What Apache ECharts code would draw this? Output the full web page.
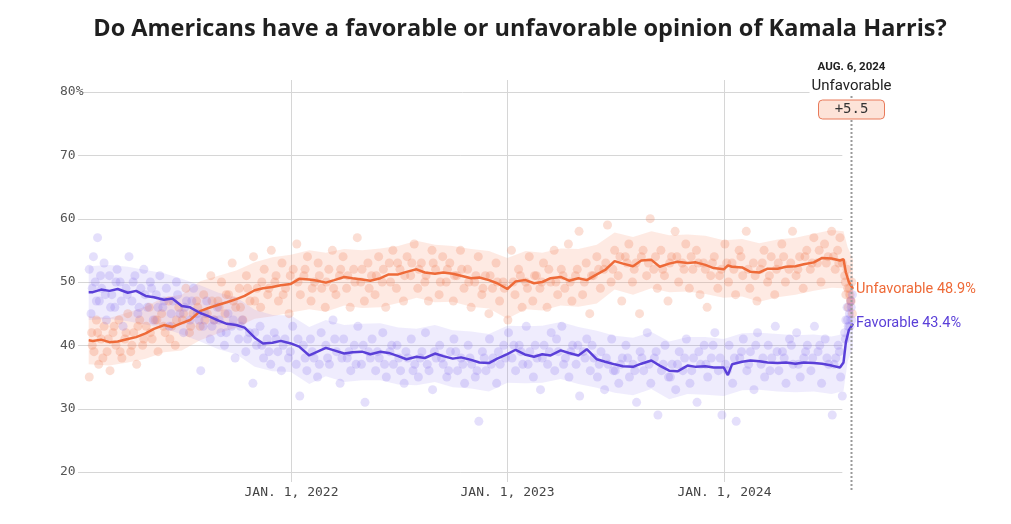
<!DOCTYPE html>
<html>
<head>
<meta charset="utf-8">
<script src="https://cdn.jsdelivr.net/npm/echarts@6/dist/echarts.min.js"></script>
<style>
html,body{margin:0;padding:0;background:#fff;}
#chart{width:1011px;height:524px;}
</style>
</head>
<body>
<div id="chart"></div>
<script>
const titleText = 'Do Americans have a favorable or unfavorable opinion of Kamala Harris?';
const yTicks = [20, 30, 40, 50, 60, 70, 80];
const xTickDates = ['2022-01-01', '2023-01-01', '2024-01-01'];
const xTickLabels = ['JAN. 1, 2022', 'JAN. 1, 2023', 'JAN. 1, 2024'];
const axisStart = '2021-01-07';
const gridEnd = '2024-07-19';
const endDate = '2024-08-06';
const endDateLabel = 'AUG. 6, 2024';
const leaderName = 'Unfavorable';
const leadMargin = '+5.5';
const favFinal = 43.4;
const unfavFinal = 48.9;

const trendDates = [
 '2021-01-25','2021-02-01','2021-02-15','2021-03-01','2021-03-15','2021-04-01','2021-04-15','2021-05-01','2021-05-15','2021-06-01','2021-06-15','2021-07-01','2021-07-15','2021-08-01','2021-08-15','2021-09-01','2021-09-15','2021-10-01','2021-10-15','2021-11-01','2021-11-15','2021-12-01','2021-12-15',
 '2022-01-01','2022-01-15','2022-02-01','2022-02-15','2022-03-01','2022-03-15','2022-04-01','2022-04-15','2022-05-01','2022-05-15','2022-06-01','2022-06-15','2022-07-01','2022-07-15','2022-08-01','2022-08-15','2022-09-01','2022-09-15','2022-10-01','2022-10-15','2022-11-01','2022-11-15','2022-12-01','2022-12-15',
 '2023-01-01','2023-01-15','2023-02-01','2023-02-15','2023-03-01','2023-03-15','2023-04-01','2023-04-15','2023-05-01','2023-05-15','2023-06-01','2023-06-15','2023-07-01','2023-07-15','2023-08-01','2023-08-15','2023-09-01','2023-09-15','2023-10-01','2023-10-15','2023-11-01','2023-11-15','2023-12-01','2023-12-15',
 '2024-01-01','2024-01-08','2024-01-15','2024-02-01','2024-02-15','2024-03-01','2024-03-15','2024-04-01','2024-04-15','2024-05-01','2024-05-15','2024-06-01','2024-06-15','2024-07-01','2024-07-15','2024-07-21','2024-07-25','2024-07-30','2024-08-06'
];
const favTrend = [
 48.4,48.4,48.8,48.6,48.9,48.3,48.6,47.8,47.6,47.2,47.4,46.2,46.0,45.1,44.6,43.9,43.4,43.2,42.8,41.2,40.3,40.4,40.7,
 40.3,39.8,38.4,39.0,39.6,39.2,38.7,38.9,39.0,38.6,39.0,38.8,38.3,37.8,38.2,38.0,38.7,38.3,37.9,38.1,37.7,37.3,37.2,37.9,
 38.6,39.3,38.5,38.2,38.6,38.4,39.2,38.8,38.4,39.4,37.8,37.4,37.0,36.7,36.6,37.1,37.6,36.8,36.0,35.9,36.8,36.6,36.7,36.5,
 36.5,35.3,37.0,37.4,37.6,37.5,37.3,37.2,37.3,37.1,37.3,37.2,37.1,36.8,36.5,37.3,40.5,42.4,43.4
];
const unfavTrend = [
 40.8,40.7,40.9,40.5,40.6,41.0,41.3,41.9,42.6,43.2,42.9,43.5,44.0,45.4,45.9,46.4,46.8,47.3,47.8,48.7,49.0,49.2,49.5,
 49.7,50.5,50.4,50.2,49.9,50.3,50.8,50.6,50.4,50.2,50.6,51.2,51.2,51.6,52.0,51.5,51.3,51.5,51.3,51.0,50.6,50.7,50.3,49.8,
 48.9,50.1,50.3,49.8,50.0,50.6,50.8,50.2,50.6,50.3,51.2,51.9,53.3,52.9,52.5,53.4,53.5,52.4,52.9,53.2,53.0,53.1,52.7,52.2,
 52.0,52.6,52.4,52.3,51.6,51.5,52.1,52.1,52.4,52.5,52.8,53.1,53.8,53.7,53.4,53.6,51.5,50.0,48.9
];

const bandDates = [
 '2021-01-25','2021-03-01','2021-04-01','2021-05-01','2021-06-01','2021-07-01','2021-08-01','2021-09-01','2021-10-01','2021-11-01','2021-12-01',
 '2022-01-01','2022-02-01','2022-03-01','2022-04-01','2022-05-01','2022-06-01','2022-07-01','2022-08-01','2022-09-01','2022-10-01','2022-11-01','2022-12-01',
 '2023-01-01','2023-02-01','2023-03-01','2023-04-01','2023-05-01','2023-06-01','2023-07-01','2023-08-01','2023-09-01','2023-10-01','2023-11-01','2023-12-01',
 '2024-01-01','2024-02-01','2024-03-01','2024-04-01','2024-05-01','2024-06-01','2024-07-01','2024-07-21','2024-07-28','2024-08-06'
];
const unfavUpper = [44.6,44.3,45.2,46.1,47.6,48.0,50.1,51.0,51.8,53.1,53.9,54.3,55.0,54.6,55.2,55.0,55.3,55.7,56.5,55.9,55.7,55.2,54.9,53.8,54.9,54.6,55.3,55.2,55.9,57.8,57.1,58.0,57.4,57.5,57.3,56.6,56.8,56.1,56.7,57.0,57.6,58.2,58.0,55.5,53.6];
const unfavLower = [37.0,36.8,37.3,37.9,38.9,39.2,40.8,41.9,42.8,44.2,44.6,45.2,45.7,45.3,46.3,45.9,46.0,46.7,47.5,46.8,46.9,46.1,45.8,44.2,45.7,45.5,46.3,46.1,46.6,48.8,48.0,49.0,48.4,48.5,48.1,47.5,47.7,46.9,47.6,48.0,48.6,49.1,49.0,46.0,44.3];
const favUpper = [52.5,52.7,52.4,51.9,51.4,50.5,49.5,48.3,47.6,45.6,44.8,44.7,42.9,44.0,43.2,43.4,43.5,42.8,42.6,43.2,42.4,42.2,41.8,43.1,43.0,43.1,43.7,42.9,42.3,41.5,41.2,42.1,40.6,41.3,41.3,41.0,41.9,42.0,41.8,41.6,41.7,41.4,41.8,45.6,47.2];
const favLower = [44.0,44.2,43.8,43.3,42.7,41.7,40.6,39.4,38.6,36.6,35.9,35.8,33.9,35.1,34.2,34.5,34.5,33.8,33.7,34.2,33.4,33.2,32.7,34.1,34.0,34.1,34.7,33.9,33.3,32.5,32.1,33.1,31.5,32.3,32.2,32.0,32.9,33.0,32.7,32.6,32.7,32.3,32.8,37.5,39.6];

const favPolls = [
 ['2021-01-26',52],['2021-01-29',45],['2021-02-02',54],['2021-02-05',50],['2021-02-09',57],['2021-02-12',47],['2021-02-16',49],['2021-02-20',53],['2021-02-24',44],['2021-03-01',51],['2021-03-05',48],['2021-03-10',46],['2021-03-14',52],['2021-03-19',50],['2021-03-24',43],['2021-03-29',49],['2021-04-03',54],['2021-04-08',47],['2021-04-13',51],['2021-04-18',45],['2021-04-23',49],['2021-04-28',52],['2021-05-04',46],['2021-05-09',50],['2021-05-14',44],['2021-05-19',48],['2021-05-25',51],['2021-05-30',46],['2021-06-05',49],['2021-06-10',43],['2021-06-16',47],['2021-06-22',50],['2021-06-28',45],['2021-07-04',42],['2021-07-09',47],['2021-07-15',44],['2021-07-21',49],['2021-07-27',45],['2021-08-02',36],['2021-08-06',43],['2021-08-12',47],['2021-08-18',41],['2021-08-24',44],['2021-08-30',46],['2021-09-05',42],['2021-09-11',40],['2021-09-17',45],['2021-09-23',43],['2021-09-29',38],['2021-10-05',41],['2021-10-11',44],['2021-10-17',39],['2021-10-23',42],['2021-10-29',34],['2021-11-04',40],['2021-11-10',43],['2021-11-16',38],['2021-11-22',41],['2021-11-28',37],['2021-12-04',42],['2021-12-10',39],['2021-12-16',36],['2021-12-22',41],['2021-12-28',38],
 ['2022-01-04',43],['2022-01-10',37],['2022-01-16',32],['2022-01-22',40],['2022-01-28',36],['2022-02-03',41],['2022-02-09',38],['2022-02-15',35],['2022-02-21',42],['2022-03-01',40],['2022-03-07',37],['2022-03-13',44],['2022-03-19',39],['2022-03-25',34],['2022-03-31',41],['2022-04-06',38],['2022-04-12',36],['2022-04-18',40],['2022-04-24',43],['2022-04-30',37],['2022-05-06',31],['2022-05-12',39],['2022-05-18',41],['2022-05-24',36],['2022-05-30',38],['2022-06-05',42],['2022-06-11',35],['2022-06-17',39],['2022-06-23',37],['2022-06-29',40],['2022-07-05',36],['2022-07-11',34],['2022-07-17',38],['2022-07-23',41],['2022-07-29',37],['2022-08-04',35],['2022-08-10',39],['2022-08-16',42],['2022-08-22',36],['2022-08-28',33],['2022-09-03',38],['2022-09-09',40],['2022-09-15',37],['2022-09-21',35],['2022-09-27',39],['2022-10-03',41],['2022-10-09',36],['2022-10-15',38],['2022-10-21',34],['2022-10-27',40],['2022-11-02',37],['2022-11-08',35],['2022-11-14',28],['2022-11-20',39],['2022-11-26',36],['2022-12-02',41],['2022-12-08',38],['2022-12-14',34],['2022-12-20',37],['2022-12-26',40],
 ['2023-01-03',42],['2023-01-09',38],['2023-01-15',36],['2023-01-21',40],['2023-01-27',37],['2023-02-02',43],['2023-02-08',39],['2023-02-14',35],['2023-02-20',38],['2023-02-26',33],['2023-03-04',40],['2023-03-10',37],['2023-03-16',42],['2023-03-22',36],['2023-03-28',39],['2023-04-03',43],['2023-04-09',38],['2023-04-15',35],['2023-04-21',40],['2023-04-27',37],['2023-05-03',32],['2023-05-09',39],['2023-05-15',41],['2023-05-21',36],['2023-05-27',38],['2023-06-02',35],['2023-06-08',39],['2023-06-14',33],['2023-06-20',37],['2023-06-26',41],['2023-07-02',36],['2023-07-08',34],['2023-07-14',38],['2023-07-20',40],['2023-07-26',35],['2023-08-01',37],['2023-08-07',31],['2023-08-13',39],['2023-08-19',36],['2023-08-25',42],['2023-08-31',34],['2023-09-06',38],['2023-09-12',29],['2023-09-18',36],['2023-09-24',40],['2023-09-30',35],['2023-10-06',37],['2023-10-12',33],['2023-10-18',39],['2023-10-24',36],['2023-10-30',41],['2023-11-05',34],['2023-11-11',38],['2023-11-17',31],['2023-11-23',37],['2023-11-29',40],['2023-12-05',35],['2023-12-11',38],['2023-12-17',42],['2023-12-23',36],['2023-12-29',29],
 ['2024-01-04',37],['2024-01-10',40],['2024-01-16',34],['2024-01-22',28],['2024-01-28',38],['2024-02-03',41],['2024-02-09',36],['2024-02-15',39],['2024-02-21',33],['2024-02-27',42],['2024-03-04',37],['2024-03-10',35],['2024-03-16',40],['2024-03-22',38],['2024-03-28',43],['2024-04-03',36],['2024-04-09',39],['2024-04-15',34],['2024-04-21',41],['2024-04-27',37],['2024-05-03',42],['2024-05-09',35],['2024-05-15',38],['2024-05-21',40],['2024-05-27',36],['2024-06-02',43],['2024-06-08',39],['2024-06-14',34],['2024-06-20',41],['2024-06-26',37],['2024-07-02',29],['2024-07-08',38],['2024-07-12',40],['2024-07-16',35],['2024-07-19',32],['2024-07-23',42],['2024-07-25',44],['2024-07-27',46],['2024-07-29',43],['2024-07-31',45],['2024-08-02',47],['2024-08-04',44],['2024-08-05',48]
];
const favPollsB = [
 ['2021-01-31',49],['2021-02-07',47],['2021-02-14',51],['2021-02-22',48],['2021-03-03',46],['2021-03-12',50],['2021-03-21',47],['2021-03-31',48],['2021-04-10',50],['2021-04-20',46],['2021-04-30',48],['2021-05-11',49],['2021-05-22',46],['2021-06-01',47],['2021-06-13',45],['2021-06-24',48],['2021-07-06',46],['2021-07-18',47],['2021-07-30',44],['2021-08-09',45],['2021-08-21',43],['2021-09-02',44],['2021-09-14',42],['2021-09-26',44],['2021-10-08',43],['2021-10-20',41],['2021-11-01',42],['2021-11-13',40],['2021-11-25',39],['2021-12-07',41],['2021-12-19',40],['2021-12-31',39],
 ['2022-01-13',41],['2022-01-25',38],['2022-02-06',39],['2022-02-18',37],['2022-03-04',38],['2022-03-16',41],['2022-03-28',38],['2022-04-09',39],['2022-04-21',37],['2022-05-03',40],['2022-05-15',38],['2022-05-27',39],['2022-06-08',37],['2022-06-20',40],['2022-07-02',38],['2022-07-14',39],['2022-07-26',36],['2022-08-07',38],['2022-08-19',37],['2022-08-31',39],['2022-09-12',38],['2022-09-24',36],['2022-10-06',39],['2022-10-18',37],['2022-10-30',38],['2022-11-11',36],['2022-11-23',38],['2022-12-05',37],['2022-12-17',39],['2022-12-29',38],
 ['2023-01-12',40],['2023-01-24',39],['2023-02-05',37],['2023-02-17',40],['2023-03-01',38],['2023-03-13',39],['2023-03-25',41],['2023-04-06',37],['2023-04-18',39],['2023-04-30',40],['2023-05-12',38],['2023-05-24',40],['2023-06-05',37],['2023-06-17',38],['2023-06-29',36],['2023-07-11',37],['2023-07-23',38],['2023-08-04',36],['2023-08-16',38],['2023-08-28',37],['2023-09-09',39],['2023-09-21',37],['2023-10-03',35],['2023-10-15',37],['2023-10-27',38],['2023-11-08',36],['2023-11-20',39],['2023-12-02',37],['2023-12-14',40],['2023-12-26',38],
 ['2024-01-07',36],['2024-01-19',38],['2024-01-31',39],['2024-02-12',37],['2024-02-24',40],['2024-03-07',38],['2024-03-19',36],['2024-03-31',39],['2024-04-12',38],['2024-04-24',40],['2024-05-06',37],['2024-05-18',39],['2024-05-30',38],['2024-06-11',40],['2024-06-23',38],['2024-07-05',37],['2024-07-14',39],['2024-07-24',41],['2024-07-28',44],['2024-08-01',43],['2024-08-03',46]
];
const unfavPolls = [
 ['2021-01-26',35],['2021-01-30',42],['2021-02-03',39],['2021-02-07',44],['2021-02-11',37],['2021-02-15',41],['2021-02-20',43],['2021-02-25',39],['2021-03-02',36],['2021-03-07',42],['2021-03-12',40],['2021-03-17',44],['2021-03-22',38],['2021-03-27',41],['2021-04-01',45],['2021-04-06',39],['2021-04-11',42],['2021-04-16',37],['2021-04-21',44],['2021-04-26',40],['2021-05-02',43],['2021-05-07',46],['2021-05-12',41],['2021-05-17',44],['2021-05-22',39],['2021-05-28',45],['2021-06-03',42],['2021-06-09',47],['2021-06-14',43],['2021-06-20',40],['2021-06-26',46],['2021-07-02',44],['2021-07-08',49],['2021-07-14',42],['2021-07-20',45],['2021-07-26',47],['2021-08-01',43],['2021-08-07',48],['2021-08-13',45],['2021-08-19',51],['2021-08-25',44],['2021-08-31',47],['2021-09-06',50],['2021-09-12',45],['2021-09-18',48],['2021-09-24',53],['2021-09-30',46],['2021-10-06',49],['2021-10-12',44],['2021-10-18',51],['2021-10-24',47],['2021-10-30',54],['2021-11-05',49],['2021-11-11',46],['2021-11-17',52],['2021-11-23',48],['2021-11-29',55],['2021-12-05',50],['2021-12-11',47],['2021-12-17',53],['2021-12-23',49],['2021-12-29',45],
 ['2022-01-05',52],['2022-01-11',56],['2022-01-17',48],['2022-01-23',51],['2022-01-29',54],['2022-02-04',47],['2022-02-10',50],['2022-02-16',53],['2022-02-22',49],['2022-02-28',46],['2022-03-06',52],['2022-03-12',55],['2022-03-18',48],['2022-03-24',51],['2022-03-30',54],['2022-04-05',49],['2022-04-11',46],['2022-04-17',52],['2022-04-23',57],['2022-04-29',50],['2022-05-05',47],['2022-05-11',53],['2022-05-17',51],['2022-05-23',48],['2022-05-29',54],['2022-06-04',50],['2022-06-10',46],['2022-06-16',53],['2022-06-22',55],['2022-06-28',49],['2022-07-04',52],['2022-07-10',47],['2022-07-16',54],['2022-07-22',51],['2022-07-28',56],['2022-08-03',49],['2022-08-09',53],['2022-08-15',50],['2022-08-21',47],['2022-08-27',55],['2022-09-02',52],['2022-09-08',48],['2022-09-14',54],['2022-09-20',50],['2022-09-26',53],['2022-10-02',47],['2022-10-08',51],['2022-10-14',55],['2022-10-20',49],['2022-10-26',52],['2022-11-01',46],['2022-11-07',50],['2022-11-13',54],['2022-11-19',48],['2022-11-25',51],['2022-12-01',45],['2022-12-07',49],['2022-12-13',53],['2022-12-19',47],['2022-12-25',50],
 ['2023-01-02',44],['2023-01-08',55],['2023-01-14',48],['2023-01-20',52],['2023-01-26',46],['2023-02-01',50],['2023-02-07',54],['2023-02-13',47],['2023-02-19',51],['2023-02-25',49],['2023-03-03',53],['2023-03-09',46],['2023-03-15',50],['2023-03-21',55],['2023-03-27',48],['2023-04-02',52],['2023-04-08',49],['2023-04-14',56],['2023-04-20',47],['2023-04-26',51],['2023-05-02',58],['2023-05-08',48],['2023-05-14',53],['2023-05-20',45],['2023-05-26',51],['2023-06-01',54],['2023-06-07',49],['2023-06-13',52],['2023-06-19',59],['2023-06-25',50],['2023-07-01',55],['2023-07-07',51],['2023-07-13',47],['2023-07-19',54],['2023-07-25',56],['2023-07-31',50],['2023-08-06',53],['2023-08-12',45],['2023-08-18',55],['2023-08-24',51],['2023-08-30',60],['2023-09-05',52],['2023-09-11',49],['2023-09-17',55],['2023-09-23',51],['2023-09-29',47],['2023-10-05',54],['2023-10-11',58],['2023-10-17',50],['2023-10-23',53],['2023-10-29',56],['2023-11-04',49],['2023-11-10',52],['2023-11-16',55],['2023-11-22',48],['2023-11-28',53],['2023-12-04',46],['2023-12-10',51],['2023-12-16',54],['2023-12-22',49],['2023-12-28',52],
 ['2024-01-03',56],['2024-01-09',50],['2024-01-15',53],['2024-01-21',48],['2024-01-27',55],['2024-02-02',51],['2024-02-08',58],['2024-02-14',49],['2024-02-20',53],['2024-02-26',47],['2024-03-03',52],['2024-03-09',55],['2024-03-15',50],['2024-03-21',54],['2024-03-27',48],['2024-04-02',53],['2024-04-08',56],['2024-04-14',50],['2024-04-20',52],['2024-04-26',58],['2024-05-02',51],['2024-05-08',54],['2024-05-14',49],['2024-05-20',55],['2024-05-26',52],['2024-06-01',57],['2024-06-07',53],['2024-06-13',50],['2024-06-19',56],['2024-06-25',54],['2024-07-01',58],['2024-07-07',52],['2024-07-11',55],['2024-07-15',57],['2024-07-19',53],['2024-07-23',51],['2024-07-25',48],['2024-07-27',52],['2024-07-29',46],['2024-07-31',49],['2024-08-02',47],['2024-08-04',50],['2024-08-05',45]
];
const unfavPollsB = [
 ['2021-01-31',40],['2021-02-09',42],['2021-02-18',38],['2021-02-27',41],['2021-03-09',43],['2021-03-19',39],['2021-03-29',42],['2021-04-08',40],['2021-04-18',43],['2021-04-28',41],['2021-05-09',42],['2021-05-20',44],['2021-05-31',43],['2021-06-11',41],['2021-06-22',44],['2021-07-04',45],['2021-07-16',43],['2021-07-28',46],['2021-08-09',44],['2021-08-21',47],['2021-09-02',46],['2021-09-14',48],['2021-09-26',47],['2021-10-08',46],['2021-10-20',49],['2021-11-01',47],['2021-11-13',50],['2021-11-25',49],['2021-12-07',51],['2021-12-19',48],['2021-12-31',51],
 ['2022-01-13',50],['2022-01-25',52],['2022-02-06',49],['2022-02-18',51],['2022-03-02',50],['2022-03-14',49],['2022-03-26',52],['2022-04-07',51],['2022-04-19',50],['2022-05-01',52],['2022-05-13',49],['2022-05-25',51],['2022-06-06',52],['2022-06-18',50],['2022-06-30',53],['2022-07-12',51],['2022-07-24',53],['2022-08-05',52],['2022-08-17',51],['2022-08-29',53],['2022-09-10',50],['2022-09-22',52],['2022-10-04',51],['2022-10-16',52],['2022-10-28',50],['2022-11-09',51],['2022-11-21',49],['2022-12-03',51],['2022-12-15',50],['2022-12-27',49],
 ['2023-01-11',50],['2023-01-23',51],['2023-02-04',49],['2023-02-16',51],['2023-02-28',50],['2023-03-12',52],['2023-03-24',50],['2023-04-05',51],['2023-04-17',50],['2023-04-29',52],['2023-05-11',50],['2023-05-23',51],['2023-06-04',52],['2023-06-16',53],['2023-06-28',52],['2023-07-10',54],['2023-07-22',53],['2023-08-03',52],['2023-08-15',54],['2023-08-27',53],['2023-09-08',54],['2023-09-20',52],['2023-10-02',53],['2023-10-14',54],['2023-10-26',52],['2023-11-07',54],['2023-11-19',53],['2023-12-01',52],['2023-12-13',53],['2023-12-25',51],
 ['2024-01-06',53],['2024-01-18',52],['2024-01-30',54],['2024-02-11',52],['2024-02-23',51],['2024-03-06',53],['2024-03-18',51],['2024-03-30',52],['2024-04-11',54],['2024-04-23',53],['2024-05-05',52],['2024-05-17',54],['2024-05-29',53],['2024-06-10',55],['2024-06-22',53],['2024-07-04',54],['2024-07-13',53],['2024-07-24',50],['2024-07-28',49],['2024-08-01',48],['2024-08-03',47]
];

const ORANGE = '#ee6a38';
const PURPLE = '#5a3fd8';
const MONO = '"DejaVu Sans Mono", "Liberation Mono", monospace';
const SANS = 'Roboto, "Liberation Sans", sans-serif';
const TITLE_FONT = '"Open Sans", Inter, sans-serif';

const zip = (xs, ys) => xs.map((x, i) => [x, ys[i]]);
const diff = (up, lo) => up.map((u, i) => +(u - lo[i]).toFixed(2));

const chart = echarts.init(document.getElementById('chart'), null, {renderer: 'canvas'});

const option = {
  animation: false,
  backgroundColor: '#fff',
  title: {
    text: titleText,
    left: 515, top: 12, textAlign: 'center',
    textStyle: {fontFamily: TITLE_FONT, fontSize: 23.5, fontWeight: 'bold', color: '#1f1f1f'}
  },
  grid: {left: 78, right: 158, top: 92, bottom: 52, containLabel: false},
  xAxis: {
    type: 'time',
    min: axisStart, max: endDate,
    axisLine: {show: false}, axisTick: {show: false}, axisLabel: {show: false}, splitLine: {show: false}
  },
  yAxis: {
    type: 'value', min: 20, max: 80, interval: 10,
    axisLine: {show: false}, axisTick: {show: false},
    axisLabel: {
      align: 'left', margin: 18, color: '#555', fontFamily: MONO, fontSize: 13,
      formatter: v => (v === 80 ? v + '%' : String(v))
    },
    splitLine: {show: false}
  },
  series: [
    {type: 'line', name: 'unfavLo', stack: 'ub', data: zip(bandDates, unfavLower), symbol: 'none', lineStyle: {opacity: 0}, silent: true, z: 1},
    {type: 'line', name: 'unfavBand', stack: 'ub', data: zip(bandDates, diff(unfavUpper, unfavLower)), symbol: 'none', lineStyle: {opacity: 0}, areaStyle: {color: 'rgba(248,150,110,0.28)'}, silent: true, z: 1},
    {type: 'line', name: 'favLo', stack: 'fb', data: zip(bandDates, favLower), symbol: 'none', lineStyle: {opacity: 0}, silent: true, z: 1},
    {type: 'line', name: 'favBand', stack: 'fb', data: zip(bandDates, diff(favUpper, favLower)), symbol: 'none', lineStyle: {opacity: 0}, areaStyle: {color: 'rgba(140,120,240,0.2)'}, silent: true, z: 1},
    {type: 'scatter', name: 'unfavPolls', data: unfavPolls.concat(unfavPollsB), symbolSize: 9, itemStyle: {color: 'rgba(240,120,80,0.3)'}, z: 2},
    {type: 'scatter', name: 'favPolls', data: favPolls.concat(favPollsB), symbolSize: 9, itemStyle: {color: 'rgba(135,112,238,0.28)'}, z: 2},
    {type: 'line', name: 'Unfavorable', data: zip(trendDates, unfavTrend), symbol: 'none', lineStyle: {color: ORANGE, width: 2.5}, z: 3,
      endLabel: {show: true, formatter: 'Unfavorable ' + unfavFinal + '%', color: ORANGE, fontFamily: SANS, fontSize: 14.5, distance: 3}},
    {type: 'line', name: 'Favorable', data: zip(trendDates, favTrend), symbol: 'none', lineStyle: {color: PURPLE, width: 2.5}, z: 3,
      endLabel: {show: true, formatter: 'Favorable ' + favFinal + '%', color: PURPLE, fontFamily: SANS, fontSize: 14.5, distance: 3}}
  ]
};
chart.setOption(option);

const toPx = (d, v) => chart.convertToPixel({gridIndex: 0}, [d, v]);
const yTop = toPx(xTickDates[0], 80)[1];
const yBot = toPx(xTickDates[0], 20)[1];
const xLeft = toPx(axisStart, 50)[0];
const xRight = toPx(gridEnd, 50)[0];
const graphics = [];
yTicks.forEach(v => {
  const y = Math.round(toPx(axisStart, v)[1]) + 0.5;
  graphics.push({type: 'line', z: 0, silent: true, shape: {x1: xLeft + (v === 80 ? 5 : 0), y1: y, x2: xRight, y2: y}, style: {stroke: '#d6d6d6', lineWidth: 1}});
});
xTickDates.forEach((d, i) => {
  const x = Math.round(toPx(d, 50)[0]) + 0.5;
  graphics.push({type: 'line', z: 0, silent: true, shape: {x1: x, y1: yTop - 12, x2: x, y2: yBot + 10}, style: {stroke: '#d6d6d6', lineWidth: 1}});
  graphics.push({type: 'text', z: 5, silent: true, style: {text: xTickLabels[i], x: x, y: yBot + 21, align: 'center', verticalAlign: 'middle', fill: '#444', font: '13px ' + MONO}});
});
const xe = Math.round(toPx(endDate, 50)[0]) - 1.5;
graphics.push({type: 'line', z: 4, silent: true, shape: {x1: xe, y1: yTop + 4, x2: xe, y2: yBot + 18}, style: {stroke: '#9a9a9a', lineWidth: 2, lineDash: [2, 2]}});
graphics.push({type: 'text', z: 6, silent: true, style: {text: endDateLabel, x: xe, y: yTop - 25, align: 'center', verticalAlign: 'middle', fill: '#222', font: 'bold 11.5px ' + SANS}});
graphics.push({type: 'text', z: 6, silent: true, style: {text: leaderName, x: xe, y: yTop - 6, align: 'center', verticalAlign: 'middle', fill: '#222', font: '15px ' + SANS, backgroundColor: '#fff', padding: [1, 2]}});
graphics.push({type: 'rect', z: 6, silent: true, shape: {x: xe - 33, y: yTop + 8, width: 66, height: 19, r: 4}, style: {fill: '#fde3d8', stroke: '#e97b5b', lineWidth: 1}});
graphics.push({type: 'text', z: 7, silent: true, style: {text: leadMargin, x: xe, y: yTop + 17.5, align: 'center', verticalAlign: 'middle', fill: '#333', font: '14px ' + MONO}});
chart.setOption({graphic: graphics});
</script>
</body>
</html>
